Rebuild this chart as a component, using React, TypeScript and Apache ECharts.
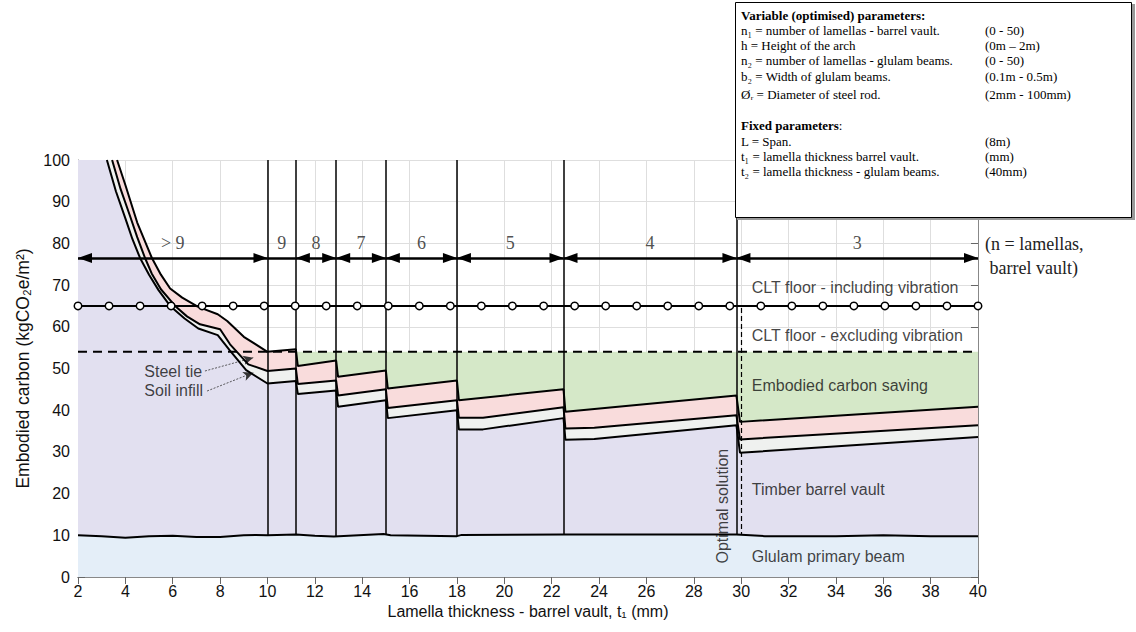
import React, { useEffect, useRef } from "react";
import * as echarts from "echarts";

// ---- Data (t1 in mm, embodied carbon in kgCO2e/m2) ----
const lowerCurve: [number, number][] = [
  [3.22, 100], [3.6, 92.5], [4.0, 86], [4.3, 81], [4.62, 76.5], [5.0, 72.5], [5.4, 68.8],
  [5.89, 65], [6.5, 62], [7.08, 59.6], [7.9, 58.0], [8.4, 54.4], [9.1, 49.6], [10, 46.4],
  [11.2, 47.0], [11.28, 43.9], [12.9, 44.7], [12.98, 40.8], [15, 42.4], [15.08, 38.1],
  [18, 40.0], [18.08, 35.4], [19.1, 35.4], [22.5, 38.1], [22.58, 32.9], [23.8, 33.1],
  [29.8, 36.4], [29.95, 29.8], [40, 33.6],
];
const middleCurve: [number, number][] = [
  [3.44, 100], [3.8, 93], [4.2, 86.5], [4.5, 81.5], [4.83, 76.5], [5.11, 72.8], [5.5, 69],
  [6.1, 65], [6.6, 62.5], [7.15, 60.6], [8.0, 59.4], [8.42, 55.8], [9.19, 51.0], [10, 49.4],
  [11.2, 50.0], [11.28, 46.3], [12.9, 47.1], [12.98, 43.5], [15, 45.0], [15.08, 40.5],
  [18, 42.4], [18.08, 38.2], [19.1, 38.2], [22.5, 40.7], [22.58, 35.6], [23.8, 35.8],
  [29.8, 38.8], [29.95, 33.0], [40, 36.4],
];
const topCurve: [number, number][] = [
  [3.65, 100], [4.0, 94], [4.5, 85], [5.12, 76.5], [5.5, 72.5], [5.89, 69.2], [6.4, 67],
  [7.0, 65], [7.3, 64.3], [7.9, 63.0], [8.3, 61.4], [9.0, 57.6], [10, 54.0],
  [11.2, 54.6], [11.28, 50.6], [12.9, 51.9], [12.98, 48.0], [15, 49.5], [15.08, 45.2],
  [18, 47.1], [18.08, 42.4], [22.5, 45.0], [22.58, 39.6], [29.8, 43.5], [29.95, 37.2],
  [35, 39.0], [40, 40.8],
];
const glulamCurve: [number, number][] = [
  [2, 10], [3, 9.8], [4, 9.4], [5, 9.8], [6, 9.9], [7, 9.6], [8, 9.6], [9, 10.0],
  [9.5, 10.1], [10, 10], [11.2, 10.2], [12, 9.9], [12.8, 9.7], [14.9, 10.3], [15.2, 10],
  [18, 9.8], [18.2, 10.1], [22.5, 10.2], [29.8, 10.2], [31, 9.8], [34, 9.8], [36, 10.0],
  [38, 9.8], [40, 9.8],
];
const cltIncludingVibration = 65;
const cltExcludingVibration = 54;
const circleMarkerX = [
  2, 3.31, 4.62, 5.93, 7.24, 8.55, 9.86, 11.17, 12.48, 13.79, 15.1, 16.41, 17.72, 19.03,
  20.34, 21.66, 22.97, 24.28, 25.59, 26.9, 28.21, 29.52, 30.83, 32.14, 33.45, 34.76,
  36.07, 37.38, 38.69, 40,
];
const regionEdges = [2, 10, 11.2, 12.9, 15, 18, 22.5, 29.8, 40];
const regionLabels = ["> 9", "9", "8", "7", "6", "5", "4", "3"];
const optimalT = 30;
const savingStart = 9.97;
const yTicksMax = 100;

const areaLabels = [
  "CLT floor - including vibration",
  "CLT floor - excluding vibration",
  "Embodied carbon saving",
  "Timber barrel vault",
  "Glulam primary beam",
];
const variableParams = [
  ["n\u2081 = number of lamellas - barrel vault.", "(0 - 50)"],
  ["h = Height of the arch", "(0m \u2013 2m)"],
  ["n\u2082 = number of lamellas - glulam beams.", "(0 - 50)"],
  ["b\u2082 = Width of glulam beams.", "(0.1m - 0.5m)"],
  ["\u00d8\u1d63 = Diameter of steel rod.", "(2mm - 100mm)"],
];
const fixedParams = [
  ["L = Span.", "(8m)"],
  ["t\u2081 = lamella thickness barrel vault.", "(mm)"],
  ["t\u2082 = lamella thickness - glulam beams.", "(40mm)"],
];

const SANS = "'Liberation Sans', Arial, sans-serif";
const SERIF = "'Liberation Serif', 'Times New Roman', serif";

export default function App() {
  const ref = useRef<HTMLDivElement>(null);
  useEffect(() => {
    const chart = echarts.init(ref.current!, null, { renderer: "svg" });

    const area = (data: [number, number][], color: string, z: number) => ({
      type: "line",
      data,
      symbol: "none",
      silent: true,
      lineStyle: { width: 0, opacity: 0 },
      areaStyle: { color, opacity: 1 },
      z,
    });
    const outline = (data: [number, number][], z = 10) => ({
      type: "line",
      data,
      symbol: "none",
      silent: true,
      lineStyle: { color: "#000", width: 2 },
      z,
    });

    const arrowY = 76.5;
    const headed: any[] = [];
    const plain: any[] = [];
    regionLabels.forEach((l, i) => {
      const seg = [{ coord: [regionEdges[i], arrowY] }, { coord: [regionEdges[i + 1], arrowY] }];
      if (l === "9") plain.push(seg);
      else headed.push(seg);
    });
    const regionLabelData = regionLabels.map((l, i) => ({
      value: [(regionEdges[i] + regionEdges[i + 1]) / 2, 80.2],
      label: {
        show: true,
        formatter: l,
        position: [0, 0],
        align: "center",
        verticalAlign: "middle",
        fontFamily: SERIF,
        fontSize: 18,
        color: "#222",
      },
    }));

    const labelPos: [number, number][] = [
      [30.45, 69.4], [30.45, 58.0], [30.45, 46.0], [30.45, 20.9], [30.45, 5.0],
    ];
    const areaLabelData = areaLabels.map((l, i) => ({
      value: labelPos[i],
      label: {
        show: true, formatter: l, position: [0, 0], align: "left", verticalAlign: "middle",
        fontFamily: SANS, fontSize: 16, color: "#111",
      },
    }));
    const extraLabels = [
      { value: [4.8, 49.3], text: "Steel tie", rotate: 0, align: "left" },
      { value: [4.8, 44.7], text: "Soil infill", rotate: 0, align: "left" },
      { value: [29.2, 17.0], text: "Optimal solution", rotate: 90, align: "center" },
    ].map((e) => ({
      value: e.value,
      label: {
        show: true, formatter: e.text, position: [0, 0], align: e.align, verticalAlign: "middle",
        rotate: e.rotate, fontFamily: SANS, fontSize: 16, color: "#111",
      },
    }));

    const lineH = 15.2;
    const infoTexts: any[] = [];
    const bx = 741;
    const rx = 985;
    const fs = 13;
    infoTexts.push({
      type: "text", left: bx, top: 9, z: 20,
      style: { text: "Variable (optimised) parameters:", font: `bold ${fs}px ${SERIF}`, fill: "#000" },
    });
    variableParams.forEach((p, i) => {
      const y = 24 + i * lineH + (i === 4 ? 3 : 0);
      infoTexts.push({ type: "text", left: bx, top: y, z: 20, style: { text: p[0], font: `${fs}px ${SERIF}`, fill: "#000" } });
      infoTexts.push({ type: "text", left: rx, top: y, z: 20, style: { text: p[1], font: `${fs}px ${SERIF}`, fill: "#000" } });
    });
    infoTexts.push({
      type: "text", left: bx, top: 119, z: 20,
      style: {
        text: "{b|Fixed parameters}:",
        font: `${fs}px ${SERIF}`,
        fill: "#000",
        rich: { b: { fontWeight: "bold", fontFamily: SERIF, fontSize: fs } },
      },
    });
    fixedParams.forEach((p, i) => {
      const y = 135 + i * lineH;
      infoTexts.push({ type: "text", left: bx, top: y, z: 20, style: { text: p[0], font: `${fs}px ${SERIF}`, fill: "#000" } });
      infoTexts.push({ type: "text", left: rx, top: y, z: 20, style: { text: p[1], font: `${fs}px ${SERIF}`, fill: "#000" } });
    });

    const markArrowBase = {
      silent: true,
      label: { show: false },
      lineStyle: { color: "#000", width: 2.5, type: "solid" },
    };

    const option: any = {
      animation: false,
      backgroundColor: "#fff",
      grid: { left: 78, right: 158, top: 160, bottom: 55, containLabel: false },
      xAxis: [
        {
          type: "value", min: 2, max: 40, interval: 2,
          name: "Lamella thickness - barrel vault, t\u2081 (mm)",
          nameLocation: "middle", nameGap: 25,
          nameTextStyle: { fontFamily: SANS, fontSize: 16, color: "#111" },
          axisLine: { show: true, lineStyle: { color: "#555", width: 1 } },
          axisTick: { show: true, inside: true, length: 7, lineStyle: { color: "#666" } },
          axisLabel: { fontFamily: SANS, fontSize: 16, color: "#111", margin: 6 },
          splitLine: { show: true, lineStyle: { color: "#dedede", width: 1 } },
        },
        {
          type: "value", min: 2, max: 40, interval: 2, position: "top",
          axisLine: { show: true, lineStyle: { color: "#888", width: 1 } },
          axisTick: { show: true, inside: true, length: 7, lineStyle: { color: "#666" } },
          axisLabel: { show: false }, splitLine: { show: false },
        },
      ],
      yAxis: [
        {
          type: "value", min: 0, max: yTicksMax, interval: 10,
          name: "Embodied carbon (kgCO\u2082e/m\u00b2)",
          nameLocation: "middle", nameGap: 44,
          nameTextStyle: { fontFamily: SANS, fontSize: 17.5, color: "#111" },
          axisLine: { show: true, lineStyle: { color: "#777", width: 1 } },
          axisTick: { show: true, inside: true, length: 7, lineStyle: { color: "#666" } },
          axisLabel: { fontFamily: SANS, fontSize: 16, color: "#111", margin: 8 },
          splitLine: { show: true, lineStyle: { color: "#dedede", width: 1 } },
        },
        {
          type: "value", min: 0, max: yTicksMax, interval: 10, position: "right",
          axisLine: { show: true, lineStyle: { color: "#888", width: 1 } },
          axisTick: { show: true, inside: true, length: 7, lineStyle: { color: "#666" } },
          axisLabel: { show: false }, splitLine: { show: false },
        },
      ],
      series: [
        area([[savingStart, cltExcludingVibration], [40, cltExcludingVibration]], "#d5e8c8", 1),
        area([[2, 100], ...topCurve], "#f9dcdc", 2),
        area([[2, 100], ...middleCurve], "#eff1ef", 3),
        area([[2, 100], ...lowerCurve], "#e2e0f0", 4),
        area(glulamCurve, "#e4eef8", 5),
        // vertical region boundaries and dashed 54 line
        {
          type: "line",
          data: [[2, cltExcludingVibration], [40, cltExcludingVibration]],
          symbol: "none", silent: true,
          lineStyle: { color: "#000", width: 2, type: [9, 6] },
          z: 9,
          markLine: {
            silent: true, symbol: "none", label: { show: false },
            lineStyle: { color: "#000", width: 1.5, type: "solid" },
            data: regionEdges.slice(1, -1).map((b) => ({ xAxis: b })),
          },
        },
        outline(lowerCurve),
        outline(middleCurve),
        outline(topCurve),
        outline(glulamCurve),
        // CLT including vibration with open circles
        {
          type: "line",
          data: circleMarkerX.map((x) => [x, cltIncludingVibration]),
          symbol: "circle", symbolSize: 7.5, silent: true,
          itemStyle: { color: "#fff", borderColor: "#000", borderWidth: 1.5 },
          lineStyle: { color: "#000", width: 2 },
          z: 11,
          markLine: {
            silent: true, symbol: "none", label: { show: false },
            lineStyle: { color: "#000", width: 1.2, type: [5, 3] },
            data: [[{ coord: [optimalT, 0] }, { coord: [optimalT, cltIncludingVibration] }]],
          },
        },
        // region arrows (headed) + n labels
        {
          type: "scatter",
          data: regionLabelData,
          symbolSize: 0, silent: true, z: 12,
          markLine: {
            ...markArrowBase,
            symbol: ["triangle", "triangle"],
            symbolSize: [10, 14],
            symbolOffset: [[0, 7], [0, 7]],
            data: headed,
          },
        },
        // plain arrow segment ("9")
        {
          type: "scatter",
          data: [],
          symbolSize: 0, silent: true, z: 12,
          markLine: { ...markArrowBase, symbol: ["none", "none"], data: plain },
        },
        // text annotations
        {
          type: "scatter",
          data: [...areaLabelData, ...extraLabels],
          symbolSize: 0, silent: true, z: 13,
          markLine: {
            silent: true,
            symbol: ["none", "arrow"],
            symbolSize: [7, 10],
            label: { show: false },
            lineStyle: { color: "#333", width: 0.8, type: [2, 1.5] },
            data: [
              [{ coord: [7.36, 49.4] }, { coord: [9.4, 52.6] }],
              [{ coord: [7.45, 44.6] }, { coord: [9.4, 49.0] }],
            ],
          },
        },
      ],
      graphic: [
        {
          type: "rect", left: 737, top: 4, z: 18,
          shape: { width: 398, height: 216 }, style: { fill: "#999" },
        },
        {
          type: "rect", left: 735, top: 2, z: 19,
          shape: { width: 396, height: 215 },
          style: { fill: "#fff", stroke: "#000", lineWidth: 1 },
        },
        ...infoTexts,
        {
          type: "text", left: 985, top: 232,
          style: {
            text: "(n = lamellas,\n barrel vault)",
            font: `18px ${SERIF}`, fill: "#222", lineHeight: 24,
          },
        },
      ],
    };
    chart.setOption(option);
    return () => chart.dispose();
  }, []);
  return (
    <div
      ref={ref}
      style={{ width: 1136, height: 632, position: "absolute", left: 0, top: 0, background: "#fff" }}
    />
  );
}
